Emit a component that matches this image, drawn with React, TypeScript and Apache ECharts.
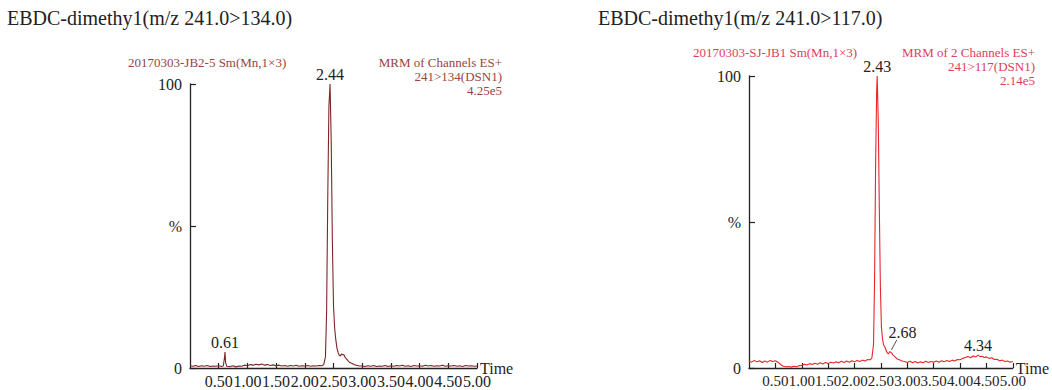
import React, { useEffect, useRef } from "react";
import * as echarts from "echarts";

const SERIF = "'Liberation Serif', 'Times New Roman', serif";

const xTickLabels = ["0.50", "1.00", "1.50", "2.00", "2.50", "3.00", "3.50", "4.00", "4.50", "5.00"];
const yTickLabels = ["0", "%", "100"];

// left trace: EBDC-dimethy1 241>134 (percent of 4.25e5)
const leftTrace: [number, number][] = [
  [0.0, 0.8], [0.05, 0.6], [0.1, 0.9], [0.15, 0.5], [0.2, 0.8], [0.25, 0.6], [0.3, 0.9], [0.35, 0.5],
  [0.4, 0.7], [0.45, 0.6], [0.5, 0.8], [0.55, 0.5], [0.58, 0.7], [0.6, 3.5], [0.61, 5.6], [0.62, 2.0],
  [0.64, 0.6], [0.7, 0.5], [0.75, 0.8], [0.8, 0.4], [0.85, 0.7], [0.9, 0.6], [0.95, 1.0], [1.0, 0.8],
  [1.05, 1.2], [1.1, 1.0], [1.15, 1.3], [1.2, 1.1], [1.25, 1.4], [1.3, 1.0], [1.35, 1.2], [1.4, 0.9],
  [1.45, 1.1], [1.5, 0.8], [1.55, 1.0], [1.6, 0.7], [1.65, 0.9], [1.7, 0.6], [1.75, 0.9], [1.8, 0.7],
  [1.85, 1.0], [1.9, 0.6], [1.95, 0.8], [2.0, 0.7], [2.05, 0.9], [2.1, 0.6], [2.15, 0.8], [2.2, 0.7],
  [2.25, 0.9], [2.3, 0.8], [2.33, 1.2], [2.36, 4], [2.38, 20], [2.4, 60], [2.42, 92], [2.44, 100],
  [2.46, 80], [2.48, 45], [2.5, 22], [2.52, 14], [2.54, 10], [2.56, 7], [2.58, 5.5], [2.6, 4.5],
  [2.62, 4.2], [2.64, 5.0], [2.66, 4.6], [2.68, 4.8], [2.7, 3.8], [2.72, 3.4], [2.75, 2.6], [2.78, 2.0],
  [2.82, 1.6], [2.86, 1.2], [2.9, 1.0], [2.95, 0.7], [3.0, 0.7], [3.05, 0.5], [3.1, 0.8], [3.15, 0.6],
  [3.2, 0.9], [3.25, 0.5], [3.3, 0.7], [3.35, 0.6], [3.4, 0.9], [3.45, 0.5], [3.5, 0.8], [3.55, 0.6],
  [3.6, 0.9], [3.65, 0.7], [3.7, 1.0], [3.75, 0.6], [3.8, 0.8], [3.85, 0.5], [3.9, 0.9], [3.95, 0.7],
  [4.0, 0.8], [4.05, 0.6], [4.1, 1.0], [4.15, 0.7], [4.2, 0.9], [4.25, 0.6], [4.3, 0.8], [4.35, 0.7],
  [4.4, 1.0], [4.45, 0.6], [4.5, 0.8], [4.55, 0.7], [4.6, 0.9], [4.65, 0.6], [4.7, 0.8], [4.75, 0.5],
  [4.8, 0.9], [4.85, 0.7], [4.9, 0.8], [4.95, 0.6], [5.0, 0.7],
];

// right trace: EBDC-dimethy1 241>117 (percent of 2.14e5)
const rightTrace: [number, number][] = [
  [0.0, 2.3], [0.05, 2.0], [0.1, 2.6], [0.15, 2.1], [0.2, 2.5], [0.25, 1.9], [0.3, 2.4], [0.35, 2.0],
  [0.4, 2.6], [0.45, 2.2], [0.5, 2.5], [0.55, 2.0], [0.6, 1.2], [0.65, 0.6], [0.7, 0.4], [0.75, 0.5],
  [0.8, 0.3], [0.85, 0.6], [0.9, 0.4], [0.95, 0.8], [1.0, 0.9], [1.05, 1.3], [1.1, 1.0], [1.15, 1.5],
  [1.2, 1.2], [1.25, 1.6], [1.3, 1.3], [1.35, 1.8], [1.4, 1.4], [1.45, 1.9], [1.5, 1.5], [1.55, 2.0],
  [1.6, 1.7], [1.65, 2.1], [1.7, 1.8], [1.75, 2.3], [1.8, 1.9], [1.85, 2.4], [1.9, 2.0], [1.95, 2.5],
  [2.0, 2.1], [2.05, 2.6], [2.1, 2.2], [2.15, 2.7], [2.2, 2.4], [2.25, 2.9], [2.3, 2.8], [2.33, 3.5],
  [2.36, 8], [2.38, 30], [2.4, 70], [2.42, 95], [2.43, 100], [2.45, 85], [2.47, 55], [2.49, 28],
  [2.51, 14], [2.53, 10], [2.55, 8], [2.58, 7], [2.61, 5.5], [2.64, 4.8], [2.67, 5.6], [2.7, 5.2],
  [2.73, 4.4], [2.76, 4.0], [2.8, 3.2], [2.85, 2.8], [2.9, 2.4], [2.95, 2.2], [3.0, 1.9], [3.05, 2.3],
  [3.1, 1.8], [3.15, 2.2], [3.2, 1.7], [3.25, 2.1], [3.3, 1.8], [3.35, 2.3], [3.4, 1.9], [3.45, 2.2],
  [3.5, 2.0], [3.55, 2.4], [3.6, 2.0], [3.65, 2.5], [3.7, 2.1], [3.75, 2.6], [3.8, 2.2], [3.85, 2.7],
  [3.9, 2.4], [3.95, 2.9], [4.0, 2.8], [4.05, 3.3], [4.1, 3.6], [4.15, 3.9], [4.2, 3.5], [4.25, 4.1],
  [4.3, 3.8], [4.34, 4.4], [4.38, 3.9], [4.42, 4.0], [4.46, 3.6], [4.5, 3.8], [4.55, 3.3], [4.6, 3.5],
  [4.65, 2.9], [4.7, 3.0], [4.75, 2.5], [4.8, 2.7], [4.85, 2.2], [4.9, 2.4], [4.95, 2.0], [5.0, 2.2],
];

const leftPeaks: [number, number, string][] = [
  [2.44, 100, "2.44"],
  [0.61, 5.6, "0.61"],
];
const rightPeaks: [number, number, string][] = [
  [2.43, 100, "2.43"],
  [4.34, 4.4, "4.34"],
];
const rightShoulder: [number, number, string] = [2.68, 5.6, "2.68"];
const rightShoulderLeader: [number, number][] = [[2.7, 6.2], [2.8, 9.6]];

const leftTitle = "EBDC-dimethy1(m/z 241.0>134.0)";
const rightTitle = "EBDC-dimethy1(m/z 241.0>117.0)";
const leftSample = "20170303-JB2-5 Sm(Mn,1×3)";
const rightSample = "20170303-SJ-JB1 Sm(Mn,1×3)";
const leftInfo = ["MRM of Channels ES+", "241>134(DSN1)", "4.25e5"];
const rightInfo = ["MRM of 2 Channels ES+", "241>117(DSN1)", "2.14e5"];

const LEFT_COLOR = "#7c2626";
const RIGHT_COLOR = "#e8262b";
const LEFT_TEXT = "#9a4440";
const RIGHT_TEXT = "#de3e5c";
const INK = "#222";

function xAxisFor(gridIndex: number, fontSize: number) {
  return {
    type: "value",
    gridIndex,
    min: 0,
    max: 5,
    interval: 0.5,
    name: "Time",
    nameLocation: "end",
    nameGap: 3,
    nameMoveOverlap: false,
    nameTextStyle: { fontFamily: SERIF, fontSize: 16, color: INK, verticalAlign: "middle", align: "left" },
    axisLine: { show: true, lineStyle: { color: INK, width: 1.3 } },
    axisTick: { show: true, inside: true, length: 5, lineStyle: { color: INK, width: 1.2 } },
    splitLine: { show: false },
    axisLabel: {
      fontFamily: SERIF,
      fontSize,
      color: INK,
      margin: 5,
      showMinLabel: false,
      showMaxLabel: true,
      hideOverlap: false,
      formatter: (v: number) => {
        const i = Math.round(v / 0.5) - 1;
        return i >= 0 && i < xTickLabels.length ? xTickLabels[i] : "";
      },
    },
  };
}

function yAxisFor(gridIndex: number) {
  return {
    type: "value",
    gridIndex,
    min: 0,
    max: 100,
    interval: 50,
    axisLine: { show: true, lineStyle: { color: INK, width: 1.3 } },
    axisTick: { show: true, inside: true, length: 6, lineStyle: { color: INK, width: 1.2 } },
    splitLine: { show: false },
    axisLabel: {
      fontFamily: SERIF,
      fontSize: 16,
      color: INK,
      margin: 8,
      showMinLabel: true,
      showMaxLabel: true,
      formatter: (v: number) => yTickLabels[Math.round(v / 50)] ?? "",
    },
  };
}

function peakMark(t: number, v: number, s: string, offset: [number, number] = [0, 0]) {
  return {
    coord: [t, v],
    value: s,
    symbol: "circle",
    symbolSize: 1,
    itemStyle: { color: "rgba(0,0,0,0)" },
    label: {
      show: true,
      position: "top",
      distance: 1,
      offset,
      formatter: s,
      fontFamily: SERIF,
      fontSize: 16,
      color: INK,
    },
  };
}

function textEl(x: number, y: number, text: string, fontSize: number, fill: string, align = "left", vAlign = "middle", lineHeight?: number) {
  return {
    type: "text",
    x,
    y,
    silent: true,
    style: {
      text,
      fill,
      font: `${fontSize}px ${SERIF}`,
      fontSize,
      fontFamily: SERIF,
      align,
      verticalAlign: vAlign,
      lineHeight,
    },
  };
}

export default function App() {
  const ref = useRef<HTMLDivElement>(null);
  useEffect(() => {
    if (!ref.current) return;
    const chart = echarts.init(ref.current, undefined, { renderer: "svg" });
    chart.setOption({
      animation: false,
      backgroundColor: "#fff",
      grid: [
        { left: 190, top: 84, width: 287, height: 284 },
        { left: 749, top: 76, width: 264, height: 292 },
      ],
      xAxis: [xAxisFor(0, 16), xAxisFor(1, 15)],
      yAxis: [yAxisFor(0), yAxisFor(1)],
      series: [
        {
          type: "line",
          xAxisIndex: 0,
          yAxisIndex: 0,
          data: leftTrace,
          showSymbol: false,
          lineStyle: { color: LEFT_COLOR, width: 1.1 },
          itemStyle: { color: LEFT_COLOR },
          markPoint: {
            silent: true,
            data: leftPeaks.map(([t, v, s]) => peakMark(t, v, s)),
          },
        },
        {
          type: "line",
          xAxisIndex: 1,
          yAxisIndex: 1,
          data: rightTrace,
          showSymbol: false,
          lineStyle: { color: RIGHT_COLOR, width: 1.1 },
          itemStyle: { color: RIGHT_COLOR },
          markPoint: {
            silent: true,
            data: [
              ...rightPeaks.map(([t, v, s]) => peakMark(t, v, s)),
              peakMark(rightShoulder[0], rightShoulder[1], rightShoulder[2], [12, -10]),
            ],
          },
          markLine: {
            silent: true,
            symbol: "none",
            label: { show: false },
            lineStyle: { color: INK, width: 0.8, type: "solid" },
            data: [[{ coord: rightShoulderLeader[0] }, { coord: rightShoulderLeader[1] }]],
          },
        },
      ],
      graphic: [
        textEl(7, 18, leftTitle, 20, INK),
        textEl(598, 18, rightTitle, 20, INK),
        textEl(128, 62, leftSample, 13, LEFT_TEXT),
        textEl(502, 55, leftInfo.join("\n"), 13, LEFT_TEXT, "right", "top", 14),
        textEl(693, 52, rightSample, 13, RIGHT_TEXT),
        textEl(1035, 45, rightInfo.join("\n"), 13, RIGHT_TEXT, "right", "top", 14),
      ],
    });
    return () => chart.dispose();
  }, []);
  return (
    <div
      ref={ref}
      style={{ position: "fixed", left: 0, top: 0, width: 1052, height: 390, background: "#fff" }}
    />
  );
}
